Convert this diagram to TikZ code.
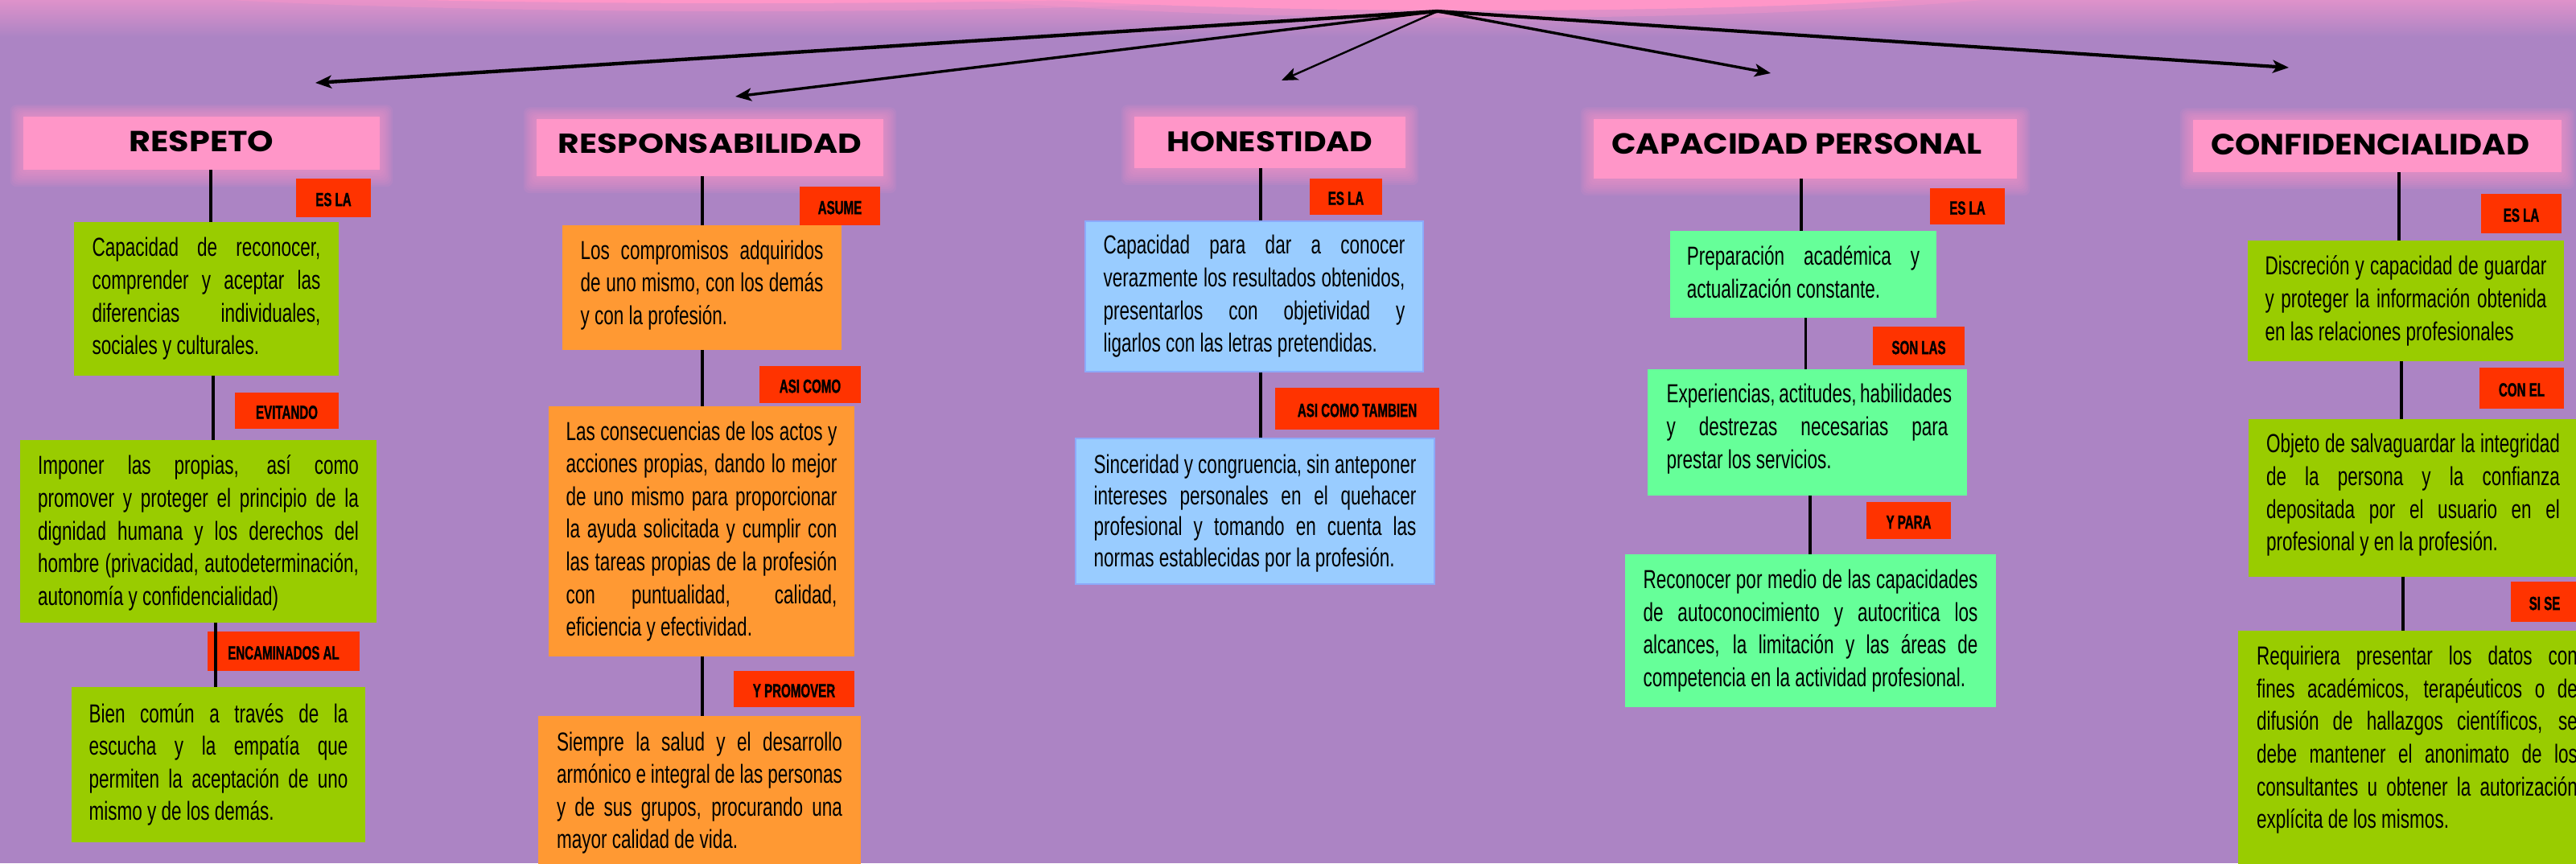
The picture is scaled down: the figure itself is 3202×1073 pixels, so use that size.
\documentclass[tikz,border=0pt]{standalone}
\usepackage{fontspec}
\usepackage{graphicx}
\usetikzlibrary{arrows.meta}
\newfontfamily\bodyfont[FakeStretch=0.695]{Liberation Sans}
\newfontfamily\labfont[FakeStretch=0.64,FakeBold=1.2]{Liberation Sans}
\newfontfamily\headfont{Poppins}
\definecolor{cBg}{RGB}{172,132,196}
\definecolor{cPink}{RGB}{255,150,200}
\definecolor{cRed}{RGB}{255,51,0}
\definecolor{cLime}{RGB}{153,204,0}
\definecolor{cOrange}{RGB}{255,153,51}
\definecolor{cBlue}{RGB}{153,204,255}
\definecolor{cBlueBorder}{RGB}{140,170,250}
\definecolor{cMint}{RGB}{102,255,153}
\definecolor{cTop}{RGB}{222,146,202}
\hbadness=10000 \hfuzz=40pt
\newcommand\jline[1]{\hbox to\hsize{#1}}
\newcommand\lline[1]{\hbox to\hsize{#1\hfil}}
\newcommand\btext[2]{\vbox{\hsize=#1\relax #2}}
\pgfdeclarelayer{bglayer}
\pgfdeclarelayer{glowlayer}
\pgfsetlayers{bglayer,glowlayer,main}
\tikzset{
  sz/.style 2 args={minimum width=#1, minimum height=#2},
  hdr/.style={fill=cPink, inner sep=0pt, font=\headfont\bfseries},
  lab/.style={fill=cRed, inner sep=0pt, text height=10.2pt, text depth=0pt,
    font=\labfont\bfseries\fontsize{11.8pt}{12pt}\selectfont},
  bx/.style={inner sep=0pt, font=\bodyfont\fontsize{16.2pt}{20.3pt}\selectfont},
  greenbox/.style={bx, fill=cLime},
  orangebox/.style={bx, fill=cOrange},
  bluebox/.style={bx, fill=cBlue, draw=cBlueBorder, line width=0.6pt},
  mintbox/.style={bx, fill=cMint},
  conn/.style={draw=black, line width=1.6pt},
  arr/.style={draw=black, -{Stealth[length=10pt,width=8pt,inset=2.5pt]}},
}
\begin{document}
\begin{tikzpicture}[x=0.5pt,y=-0.5pt]
\useasboundingbox (0,0) rectangle (3202,1073);
\begin{pgfonlayer}{bglayer}
  \fill[cBg] (0,0) rectangle (3202,1073);
  \begin{scope}
    \clip (0,0) rectangle (3202,1073);
    \shade[top color=cTop, bottom color=cBg] (0,0) rectangle (3202,46);
    \fill[cPink, opacity=0.35] (929,-30) ellipse [x radius=440pt, y radius=22pt];
    \fill[cPink, opacity=0.35] (1838,-40) ellipse [x radius=410pt, y radius=31pt];
    \fill[cPink] (929,-30) ellipse [x radius=434pt, y radius=17pt];
    \fill[cPink] (1838,-40) ellipse [x radius=404pt, y radius=26.5pt];
  \end{scope}
\end{pgfonlayer}

\begin{scope}
\clip (0,0) rectangle (3202,1073);

% ---------- headers ----------
\node[hdr, sz={221.5pt}{33pt}, text depth=2.5pt] (h1) at (250.5,178)
  {\resizebox{90pt}{12.85pt}{RESPETO}};
\node[hdr, sz={215.5pt}{35.5pt}, text depth=4.7pt] (h2) at (882.5,183.5)
  {\resizebox{188.5pt}{12.15pt}{RESPONSABILIDAD}};
\node[hdr, sz={168.5pt}{32pt}, text depth=1.5pt] (h3) at (1578.5,177)
  {\resizebox{128pt}{12.5pt}{HONESTIDAD}};
\node[hdr, sz={263pt}{37pt}, text depth=6.2pt] (h4) at (2244,185)
  {\resizebox{230.5pt}{12.85pt}{CAPACIDAD PERSONAL}\hspace*{10.5pt}};
\node[hdr, sz={229pt}{32.5pt}, text depth=1.8pt] (h5) at (2955,181.5)
  {\resizebox{198pt}{13pt}{CONFIDENCIALIDAD}\hspace*{9pt}};

% ---------- RESPETO ----------
\node[greenbox, sz={164.5pt}{95.5pt}] (b11) at (256.5,371.5)
  {\btext{142pt}{\jline{Capacidad de reconocer,}\jline{comprender y aceptar las}\jline{diferencias individuales,}\lline{sociales y culturales.}}};
\node[greenbox, sz={221.5pt}{113.5pt}, text depth=1.3pt] (b12) at (246.5,660.5)
  {\btext{199.5pt}{\jline{Imponer las propias, así como}\jline{promover y proteger el principio de la}\jline{dignidad humana y los derechos del}\jline{hombre (privacidad, autodeterminación,}\lline{autonomía y confidencialidad)}}};
\node[greenbox, sz={182.5pt}{96.5pt}] (b13) at (271.5,950.5)
  {\btext{161pt}{\jline{Bien común a través de la}\jline{escucha y la empatía que}\jline{permiten la aceptación de uno}\lline{mismo y de los demás.}}};
\node[lab, sz={46.5pt}{24pt}] (l11) at (414.5,246) {ES LA};
\node[lab, sz={64.5pt}{22.5pt}] (l12) at (356.5,510.5) {EVITANDO};
\node[lab, sz={94.5pt}{24.5pt}] (l13) at (352.5,809.5) {ENCAMINADOS AL};

% ---------- RESPONSABILIDAD ----------
\node[orangebox, sz={173.5pt}{77.5pt}, text depth=6.4pt] (b21) at (872.5,357.5)
  {\btext{151pt}{\jline{Los compromisos adquiridos}\jline{de uno mismo, con los demás}\lline{y con la profesión.}}};
\node[orangebox, sz={190pt}{155.5pt}] (b22) at (872,660.5)
  {\btext{168.5pt}{\jline{Las consecuencias de los actos y}\jline{acciones propias, dando lo mejor}\jline{de uno mismo para proporcionar}\jline{la ayuda solicitada y cumplir con}\jline{las tareas propias de la profesión}\jline{con puntualidad, calidad,}\lline{eficiencia y efectividad.}}};
\node[orangebox, sz={200.5pt}{95.6pt}] (b23) at (869.5,985.6)
  {\btext{177.5pt}{\jline{Siempre la salud y el desarrollo}\jline{armónico e integral de las personas}\jline{y de sus grupos, procurando una}\lline{mayor calidad de vida.}}};
\node[lab, sz={50pt}{24pt}] (l21) at (1044,256) {ASUME};
\node[lab, sz={63pt}{23pt}] (l22) at (1007,478) {ASI COMO};
\node[lab, sz={75pt}{22.5pt}] (l23) at (987,856.5) {Y PROMOVER};

% ---------- HONESTIDAD ----------
\node[bluebox, sz={210pt}{93.5pt}] (b31) at (1559,368.5)
  {\btext{187.5pt}{\jline{Capacidad para dar a conocer}\jline{verazmente los resultados obtenidos,}\jline{presentarlos con objetividad y}\lline{ligarlos con las letras pretendidas.}}};
\node[bluebox, sz={223pt}{90.5pt}, text depth=0.7pt,
  font=\bodyfont\fontsize{16.2pt}{19.4pt}\selectfont] (b32) at (1560,635.5)
  {\btext{200.5pt}{\jline{Sinceridad y congruencia, sin anteponer}\jline{intereses personales en el quehacer}\jline{profesional y tomando en cuenta las}\lline{normas establecidas por la profesión.}}};
\node[lab, sz={45pt}{22.5pt}] (l31) at (1673,244.5) {ES LA};
\node[lab, sz={102pt}{26pt}] (l32) at (1687,508) {ASI COMO TAMBIEN};

% ---------- CAPACIDAD PERSONAL ----------
\node[mintbox, sz={165.5pt}{54pt}, text depth=3.2pt] (b41) at (2241.5,341)
  {\btext{144.75pt}{\jline{Preparación académica y}\lline{actualización constante.}}};
\node[mintbox, sz={198.5pt}{78.5pt}, text depth=7.7pt] (b42) at (2246.5,537.5)
  {\btext{175pt}{\jline{Experiencias, actitudes, habilidades}\jline{y destrezas necesarias para}\lline{prestar los servicios.}}};
\node[mintbox, sz={230.5pt}{95pt}] (b43) at (2250.5,784)
  {\btext{208pt}{\jline{Reconocer por medio de las capacidades}\jline{de autoconocimiento y autocritica los}\jline{alcances, la limitación y las áreas de}\lline{competencia en la actividad profesional.}}};
\node[lab, sz={46.5pt}{22.5pt}] (l41) at (2445.5,256.5) {ES LA};
\node[lab, sz={57pt}{24pt}] (l42) at (2385,430) {SON LAS};
\node[lab, sz={52.5pt}{23pt}] (l43) at (2372.5,647) {Y PARA};

% ---------- CONFIDENCIALIDAD ----------
\node[greenbox, sz={196.5pt}{75pt}] (b51) at (2990.5,374)
  {\btext{175pt}{\jline{Discreción y capacidad de guardar}\jline{y proteger la información obtenida}\lline{en las relaciones profesionales}}};
\node[greenbox, sz={204.5pt}{98pt}, text depth=7pt] (b52) at (2999.5,619)
  {\btext{182.5pt}{\jline{Objeto de salvaguardar la integridad}\jline{de la persona y la confianza}\jline{depositada por el usuario en el}\lline{profesional y en la profesión.}}};
\node[greenbox, sz={222.5pt}{153pt}, text depth=20.5pt] (b53) at (3004.5,937)
  {\btext{199.5pt}{\jline{Requiriera presentar los datos con}\jline{fines académicos, terapéuticos o de}\jline{difusión de hallazgos científicos, se}\jline{debe mantener el anonimato de los}\jline{consultantes u obtener la autorización}\lline{explícita de los mismos.}}};
\node[lab, sz={50pt}{24.5pt}] (l51) at (3134,265.5) {ES LA};
\node[lab, sz={52.5pt}{25.5pt}] (l52) at (3134.5,482.5) {CON EL};
\node[lab, sz={42pt}{25pt}] (l53) at (3163,748) {SI SE};

% ---------- vertical connectors ----------
\coordinate (c11) at (262,0);  \coordinate (c12) at (265,0);  \coordinate (c13) at (268,0);
\coordinate (c2) at (873,0);
\coordinate (c3) at (1567,0);
\coordinate (c41) at (2239,0); \coordinate (c42) at (2244.5,0); \coordinate (c43) at (2250,0);
\coordinate (c51) at (2982,0); \coordinate (c52) at (2985,0); \coordinate (c53) at (2987,0);
\draw[conn] (h1.south -| c11) -- (b11.north -| c11);
\draw[conn] (b11.south -| c12) -- (b12.north -| c12);
\draw[conn] (b12.south -| c13) -- (b13.north -| c13);
\draw[conn] (h2.south -| c2) -- (b21.north -| c2);
\draw[conn] (b21.south -| c2) -- (b22.north -| c2);
\draw[conn] (b22.south -| c2) -- (b23.north -| c2);
\draw[conn] (h3.south -| c3) -- (b31.north -| c3);
\draw[conn] (b31.south -| c3) -- (b32.north -| c3);
\draw[conn] (h4.south -| c41) -- (b41.north -| c41);
\draw[conn] (b41.south -| c42) -- (b42.north -| c42);
\draw[conn] (b42.south -| c43) -- (b43.north -| c43);
\draw[conn] (h5.south -| c51) -- (b51.north -| c51);
\draw[conn] (b51.south -| c52) -- (b52.north -| c52);
\draw[conn] (b52.south -| c53) -- (b53.north -| c53);

% ---------- top arrows ----------
\coordinate (src) at (1787,14);
\coordinate (t1) at (392,103);
\coordinate (t2) at (914,120);
\coordinate (t3) at (1593,100);
\coordinate (t4) at (2201,91);
\coordinate (t5) at (2845,84);
\draw[arr, line width=2.2pt] (src) -- (t1);
\draw[arr, line width=1.7pt] (src) -- (t2);
\draw[arr, line width=1.2pt] (src) -- (t3);
\draw[arr, line width=1.7pt] (src) -- (t4);
\draw[arr, line width=2.1pt] (src) -- (t5);
\end{scope}

% ---------- header glow ----------
\begin{pgfonlayer}{glowlayer}
  \foreach \h in {h1,h2,h3,h4,h5}{
    \foreach \k in {1,...,8}{
      \fill[cPink, opacity=0.1, rounded corners=4pt]
        ([xshift={-\k*1pt}, yshift={0.9*\k*1pt}]\h.north west) rectangle
        ([xshift={\k*1pt}, yshift={-1.3*\k*1pt}]\h.south east);
    }
  }
\end{pgfonlayer}
\end{tikzpicture}
\end{document}
